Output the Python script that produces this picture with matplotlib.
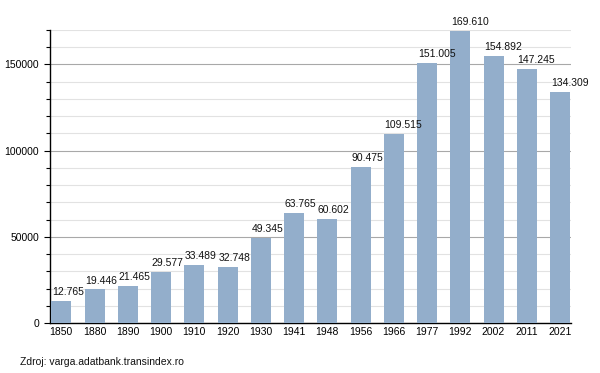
import matplotlib
matplotlib.use("Agg")
import matplotlib.pyplot as plt
from matplotlib.ticker import MultipleLocator

years = ["1850", "1880", "1890", "1900", "1910", "1920", "1930", "1941", "1948",
         "1956", "1966", "1977", "1992", "2002", "2011", "2021"]
population = [12765, 19446, 21465, 29577, 33489, 32748, 49345, 63765, 60602,
              90475, 109515, 151005, 169610, 154892, 147245, 134309]
labels = ["12.765", "19.446", "21.465", "29.577", "33.489", "32.748", "49.345", "63.765",
          "60.602", "90.475", "109.515", "151.005", "169.610", "154.892", "147.245", "134.309"]

plt.rcParams['font.family'] = ['Liberation Sans', 'DejaVu Sans']

fig = plt.figure(figsize=(6, 3.73), dpi=100)
ax = fig.add_axes([50/600, 50/373, 521/600, 293/373])

x = list(range(len(years)))
w = 0.6
ax.bar(x, population, width=w, color="#93AECB", zorder=3)
for xi, v, lab in zip(x, population, labels):
    ax.text(xi - w/2 + 0.02, v + 2200, lab, ha="left", va="bottom", fontsize=7.5, color="#111111", zorder=4)

ax.set_xlim(-0.34, 15.33)
ax.set_ylim(0, 170000)
ax.yaxis.set_major_locator(MultipleLocator(50000))
ax.yaxis.set_minor_locator(MultipleLocator(10000))
ax.grid(which="minor", axis="y", color="#e2e2e2", linewidth=0.8, zorder=1)
ax.grid(which="major", axis="y", color="#a8a8a8", linewidth=0.8, zorder=2)
ax.set_xticks(x)
ax.set_xticklabels(years)
ax.tick_params(axis="x", length=0, pad=3, labelsize=7.5)
ax.tick_params(axis="y", which="major", length=4, width=0.8, pad=4, labelsize=7.5)
ax.tick_params(axis="y", which="minor", length=3, width=0.8)
for s in ["top", "right"]:
    ax.spines[s].set_visible(False)
ax.spines["left"].set_linewidth(1.0)
ax.spines["bottom"].set_linewidth(1.0)

fig.text(20/600, 1 - 362/373, "Zdroj: varga.adatbank.transindex.ro", fontsize=7.5,
         va="center", ha="left", color="#111111")

fig.savefig("out.png", dpi=100)
